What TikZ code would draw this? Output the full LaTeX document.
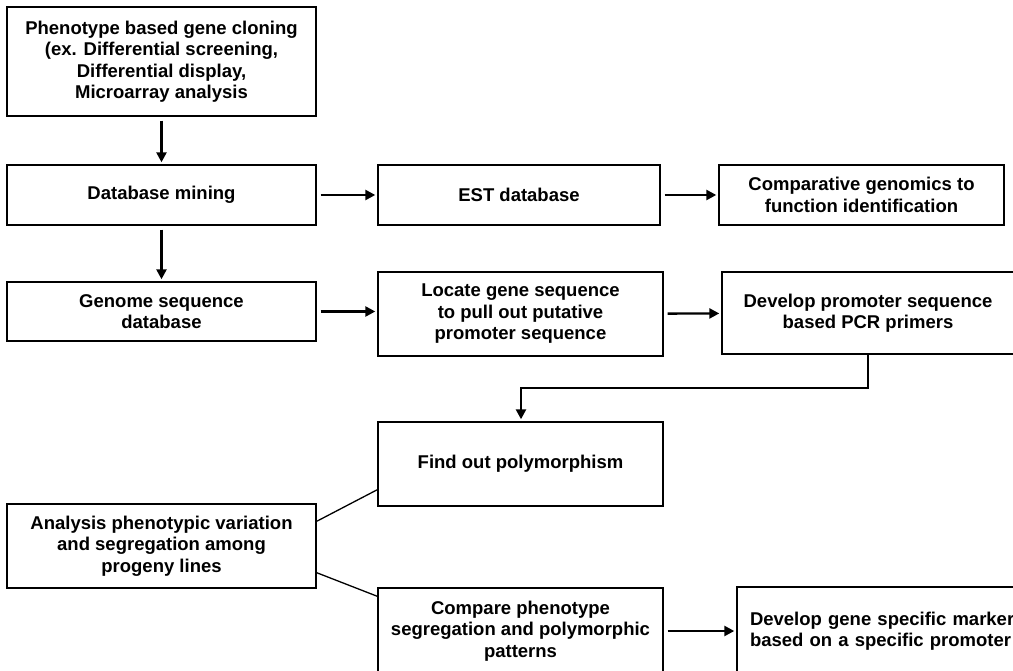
\documentclass[tikz,border=0pt]{standalone}
\usepackage{fontspec}
\setmainfont{Liberation Sans}
\usetikzlibrary{arrows.meta,calc}
\begin{document}
\begin{tikzpicture}[x=1pt,y=-1pt,
  box/.style={draw, line width=1.4pt, inner sep=0pt, align=center,
    font=\fontsize{18.5}{21.5}\selectfont\bfseries},
  arr/.style={line width=2.4pt, -{Triangle[length=10pt,width=10pt]},
    shorten <=4pt, shorten >=2pt},
  link/.style={line width=1.3pt}]
\useasboundingbox (0,0) rectangle (1013,671);
\clip (0,0) rectangle (1013,671);
\node[box, minimum width=309pt, minimum height=109pt] (A) at (161.5,61.5)
  {Phenotype based gene cloning\\(ex. Differential screening,\\Differential display,\\Microarray analysis};
\node[box, minimum width=309pt, minimum height=60pt] (B) at (161.5,195) {Database mining};
\node[box, minimum width=282pt, minimum height=60pt] (C) at (519,195) {EST database};
\node[box, minimum width=285pt, minimum height=60pt] (D) at (861.5,195)
  {Comparative genomics to\\function identification};
\node[box, minimum width=309pt, minimum height=59pt] (E) at (161.5,311.5)
  {Genome sequence\\database};
\node[box, minimum width=285pt, minimum height=84pt] (F) at (520.5,314)
  {Locate gene sequence\\to pull out putative\\promoter sequence};
\node[box, minimum width=292pt, minimum height=82pt] (G) at (868,313)
  {Develop promoter sequence\\based PCR primers};
\node[box, minimum width=285pt, minimum height=84pt] (H) at (520.5,464)
  {Find out polymorphism};
\node[box, minimum width=309pt, minimum height=84pt] (I) at (161.5,546)
  {Analysis phenotypic variation\\and segregation among\\progeny lines};
\node[box, minimum width=285pt, minimum height=86pt] (J) at (520.5,631)
  {Compare phenotype\\segregation and polymorphic\\patterns};
\node[box, text width=267pt, align=left, inner xsep=13pt, minimum height=88pt] (K) at (883.5,631)
  {Develop gene specific marker\\based on a specific promoter};
\draw[arr] (A) -- (B);
\draw[arr] (B) -- (C);
\draw[arr] (C) -- (D);
\draw[arr] (B) -- (E);
\draw[arr] (E.east) -- (F.west |- E.east);
\draw[arr] (F) -- (G);
\draw[arr, shorten <=0pt] (G.south) -- (G.south |- 0,388) -| ([xshift=0.5pt]H.north);
\draw[arr] (J) -- (K);
\draw[link] ($(I.north east)+(0,18)$) -- ($(H.south west)+(0,-17)$);
\draw[link] ($(I.south east)+(0,-16)$) -- ($(J.north west)+(0,9)$);
\end{tikzpicture}
\end{document}
